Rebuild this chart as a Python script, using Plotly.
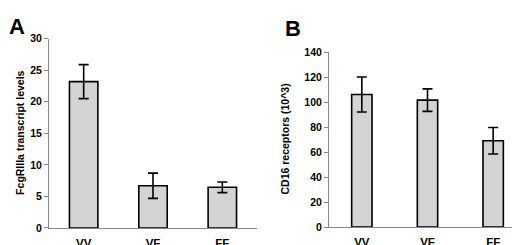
import plotly.graph_objects as go

categories = ["VV", "VF", "FF"]
a_values = [23.2, 6.7, 6.45]
a_errors = [2.7, 2.0, 0.85]
b_values = [106, 101.5, 69]
b_errors = [14, 9, 10.6]
a_ticks = [0, 5, 10, 15, 20, 25, 30]
b_ticks = [0, 20, 40, 60, 80, 100, 120, 140]

W, H = 520, 245
FONT = "Liberation Sans, Arial, sans-serif"

fig = go.Figure()
err_style = dict(type="data", color="black", thickness=1.6, width=5)
fig.add_trace(go.Bar(x=categories, y=a_values, error_y=dict(array=a_errors, **err_style),
                     marker=dict(color="#d3d3d3", line=dict(color="black", width=1.6)),
                     xaxis="x", yaxis="y", showlegend=False))
fig.add_trace(go.Bar(x=categories, y=b_values, error_y=dict(array=b_errors, **err_style),
                     marker=dict(color="#d3d3d3", line=dict(color="black", width=1.6)),
                     xaxis="x2", yaxis="y2", showlegend=False, width=0.31))

axis_common = dict(showgrid=False, zeroline=False, showline=True, linecolor="#888888", linewidth=1)
tickfont = dict(family=FONT, size=10.5, color="black")
catfont = dict(family=FONT, size=11.5, color="black")

def bold(v):
    return [f"<b>{t}</b>" for t in v]

def px_x(p):
    return p / W

def px_y(p):
    return 1 - p / H

fig.update_layout(
    width=W, height=H, margin=dict(l=0, r=0, t=0, b=0),
    paper_bgcolor="white", plot_bgcolor="white",
    bargap=0.59,
    xaxis=dict(domain=[px_x(41), px_x(249)], anchor="y", ticks="", tickfont=catfont,
               tickvals=categories, ticktext=bold(categories), ticklabelstandoff=4, **axis_common),
    yaxis=dict(domain=[px_y(225), px_y(26)], anchor="x", range=[0, 30], tickvals=a_ticks,
               ticktext=bold(a_ticks), ticks="outside", ticklen=4, tickcolor="#888888",
               tickfont=tickfont, **axis_common),
    xaxis2=dict(domain=[px_x(321), px_x(518)], anchor="y2", ticks="", tickfont=catfont,
                tickvals=categories, ticktext=bold(categories), ticklabelstandoff=4, **axis_common),
    yaxis2=dict(domain=[px_y(224), px_y(40)], anchor="x2", range=[0, 140], tickvals=b_ticks,
                ticktext=bold(b_ticks), ticks="outside", ticklen=4, tickcolor="#888888",
                tickfont=tickfont, **axis_common),
    annotations=[
        dict(text="<b>FcgRIIIa transcript levels</b>", x=px_x(12), y=px_y(125), xref="paper", yref="paper",
             xanchor="center", yanchor="middle",
             textangle=-90, showarrow=False, font=dict(family=FONT, size=10.5, color="black")),
        dict(text="<b>CD16 receptors (10^3)</b>", x=px_x(277), y=px_y(132), xref="paper", yref="paper",
             xanchor="center", yanchor="middle",
             textangle=-90, showarrow=False, font=dict(family=FONT, size=10.5, color="black")),
        dict(text="<b>A</b>", x=px_x(-1), y=px_y(-2), xref="paper", yref="paper", xanchor="left", yanchor="top",
             showarrow=False, font=dict(family=FONT, size=22, color="black")),
        dict(text="<b>B</b>", x=px_x(275), y=px_y(0), xref="paper", yref="paper", xanchor="left", yanchor="top",
             showarrow=False, font=dict(family=FONT, size=22, color="black")),
    ],
)

fig.write_html("out.html")
